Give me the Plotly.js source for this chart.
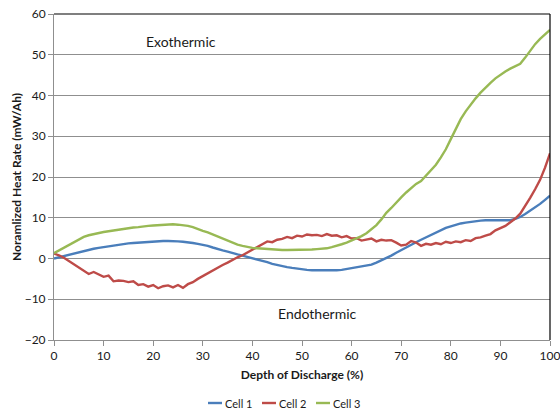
<!DOCTYPE html>
<html>
<head>
<meta charset="utf-8">
<script src="https://cdn.plot.ly/plotly-3.0.1.min.js"></script>
<style>
  html, body { margin: 0; padding: 0; background: #fff; }
  #chart { width: 560px; height: 413px; }
</style>
</head>
<body>
<div id="chart"></div>
<script>
// Depth of discharge (%) sampled every 1 %
const depth = [];
for (let i = 0; i <= 100; i++) depth.push(i);

const seriesNames = ["Cell 1", "Cell 2", "Cell 3"];
const seriesColors = ["#4A7EBB", "#BE4B48", "#98B954"];

// Normalized heat rate (mW/Ah)
const cell1 = [
  0.0, 0.3, 0.6, 0.9, 1.3, 1.6, 1.9, 2.2, 2.4, 2.6,
  2.8, 3.0, 3.2, 3.4, 3.5, 3.7, 3.8, 3.9, 4.0, 4.1,
  4.1, 4.2, 4.3, 4.3, 4.3, 4.2, 4.1, 4.0, 3.8, 3.6,
  3.4, 3.1, 2.7, 2.3, 2.0, 1.7, 1.3, 1.0, 0.7, 0.4,
  0.1, -0.2, -0.6, -0.9, -1.3, -1.6, -1.9, -2.1, -2.3, -2.5,
  -2.7, -2.8, -2.9, -2.9, -3.0, -3.0, -3.0, -2.9, -2.8, -2.6,
  -2.4, -2.2, -2.0, -1.8, -1.5, -1.0, -0.5, 0.0, 0.7, 1.4,
  2.1, 2.8, 3.4, 4.0, 4.6, 5.2, 5.9, 6.5, 7.0, 7.5,
  7.9, 8.3, 8.6, 8.8, 9.0, 9.2, 9.3, 9.4, 9.4, 9.3,
  9.3, 9.3, 9.4, 9.7, 10.2, 10.9, 11.7, 12.5, 13.4, 14.4,
  15.4
];

const cell2 = [
  1.2, 0.8, 0.2, -0.6, -1.6, -2.4, -3.0, -3.8, -3.3, -4.0,
  -4.5, -4.2, -5.6, -5.4, -5.5, -5.8, -5.6, -6.5, -6.3, -6.9,
  -6.5, -7.3, -6.8, -6.6, -7.1, -6.5, -7.2, -6.3, -5.8, -5.0,
  -4.3, -3.5, -3.0, -2.1, -1.6, -1.0, -0.3, 0.3, 0.8, 1.5,
  2.2, 2.9, 3.4, 4.2, 4.0, 4.6, 4.8, 5.3, 5.0, 5.6,
  5.4, 5.9, 5.7, 5.8, 5.5, 6.0, 5.6, 5.7, 5.2, 5.5,
  4.9, 5.0, 4.4, 4.7, 4.9, 4.2, 4.6, 4.4, 4.5, 3.9,
  3.2, 3.4, 4.3, 3.9, 3.1, 3.6, 3.4, 3.8, 3.5, 4.1,
  3.8, 4.2, 4.0, 4.5, 4.3, 5.0, 5.2, 5.6, 6.0, 6.9,
  7.4, 8.0, 8.9, 9.8, 11.0, 12.8, 14.9, 17.0, 19.3, 22.3,
  25.8
];

const cell3 = [
  1.3, 2.0, 2.7, 3.3, 3.9, 4.6, 5.3, 5.7, 6.0, 6.2,
  6.5, 6.7, 6.9, 7.1, 7.3, 7.4, 7.6, 7.7, 7.9, 8.0,
  8.1, 8.2, 8.3, 8.4, 8.4, 8.3, 8.2, 8.0, 7.7, 7.2,
  6.8, 6.4, 5.9, 5.3, 4.8, 4.3, 3.8, 3.4, 3.1, 2.8,
  2.6, 2.5, 2.4, 2.3, 2.2, 2.2, 2.1, 2.1, 2.1, 2.1,
  2.1, 2.1, 2.2, 2.3, 2.4, 2.5, 2.8, 3.1, 3.5, 3.9,
  4.4, 4.9, 5.5, 6.2, 7.2, 8.2, 9.6, 11.2, 12.4, 13.8,
  15.0, 16.2, 17.3, 18.3, 19.0, 20.3, 21.7, 23.0, 24.8, 26.8,
  29.3, 31.9, 34.2, 36.1, 37.8, 39.3, 40.7, 42.0, 43.1, 44.2,
  45.1, 45.9, 46.6, 47.2, 47.8, 49.3, 51.1, 52.6, 53.9, 55.0,
  56.1
];

const yTicks = [-20, -10, 0, 10, 20, 30, 40, 50, 60];
const xTicks = [0, 10, 20, 30, 40, 50, 60, 70, 80, 90, 100];

const font = "Lato, 'Open Sans', 'DejaVu Sans', sans-serif";
const textColor = "#1a1a1a";
const gridColor = "#8f8f8f";

const traces = [cell1, cell2, cell3].map((vals, i) => ({
  type: "scatter",
  mode: "lines",
  x: depth,
  y: vals,
  name: seriesNames[i],
  line: { color: seriesColors[i], width: 2.4 },
  showlegend: false,
  hoverinfo: "skip"
}));

// Hand-built legend below the axis title: short line sample + label
const legendShapes = [];
const legendNotes = [];
const legendX = [208, 262, 316];   // pixel start of each sample line
const plotL = 54, plotW = 496, plotB = 340, plotH = 326;
const legendY = (plotB - 403) / plotH;
legendX.forEach((px, i) => {
  legendShapes.push({
    type: "line", xref: "paper", yref: "paper",
    x0: (px - plotL) / plotW, x1: (px + 14 - plotL) / plotW,
    y0: legendY, y1: legendY,
    line: { color: seriesColors[i], width: 2.4 }
  });
  legendNotes.push({
    xref: "paper", yref: "paper",
    x: (px + 15 - plotL) / plotW, y: legendY,
    xanchor: "left", yanchor: "middle",
    text: seriesNames[i], showarrow: false,
    font: { family: font, size: 11, color: textColor }
  });
});

const layout = {
  width: 560,
  height: 413,
  margin: { l: 54, r: 10, t: 14, b: 73 },
  paper_bgcolor: "#fff",
  plot_bgcolor: "#fff",
  showlegend: false,
  font: { family: font, size: 12, color: textColor },
  xaxis: {
    range: [0, 100],
    tickvals: xTicks,
    ticks: "outside",
    ticklen: 5,
    tickcolor: gridColor,
    ticklabeloverflow: "allow",
    showline: true,
    linecolor: gridColor,
    linewidth: 1,
    showgrid: false,
    zeroline: false,
    tickfont: { family: font, size: 12, color: textColor },
    title: {
      text: "<b>Depth of Discharge (%)</b>",
      font: { family: font, size: 12, color: textColor },
      standoff: 8
    }
  },
  yaxis: {
    range: [-20, 60],
    tickvals: yTicks,
    ticks: "outside",
    ticklen: 5,
    tickcolor: gridColor,
    showline: true,
    linecolor: gridColor,
    linewidth: 1,
    showgrid: true,
    gridcolor: gridColor,
    gridwidth: 1,
    zeroline: false,
    tickfont: { family: font, size: 12, color: textColor },
    title: {
      text: "<b>Noramlized Heat Rate (mW/Ah)</b>",
      font: { family: font, size: 12, color: textColor },
      standoff: 0
    }
  },
  shapes: [
    // dark frame on the top and right edges of the plot area
    { type: "line", xref: "paper", yref: "paper", x0: 0, x1: 1, y0: 1, y1: 1,
      line: { color: "#000", width: 1.2 } },
    { type: "line", xref: "paper", yref: "paper", x0: 1, x1: 1, y0: 0, y1: 1,
      line: { color: "#000", width: 1.2 } }
  ].concat(legendShapes),
  annotations: [
    { x: 25.7, y: 53.2, xref: "x", yref: "y", text: "Exothermic", showarrow: false,
      font: { family: font, size: 14, color: textColor } },
    { x: 53.2, y: -13.6, xref: "x", yref: "y", text: "Endothermic", showarrow: false,
      font: { family: font, size: 14, color: textColor } }
  ].concat(legendNotes)
};

Plotly.newPlot("chart", traces, layout, { staticPlot: true, displayModeBar: false });
</script>
</body>
</html>
